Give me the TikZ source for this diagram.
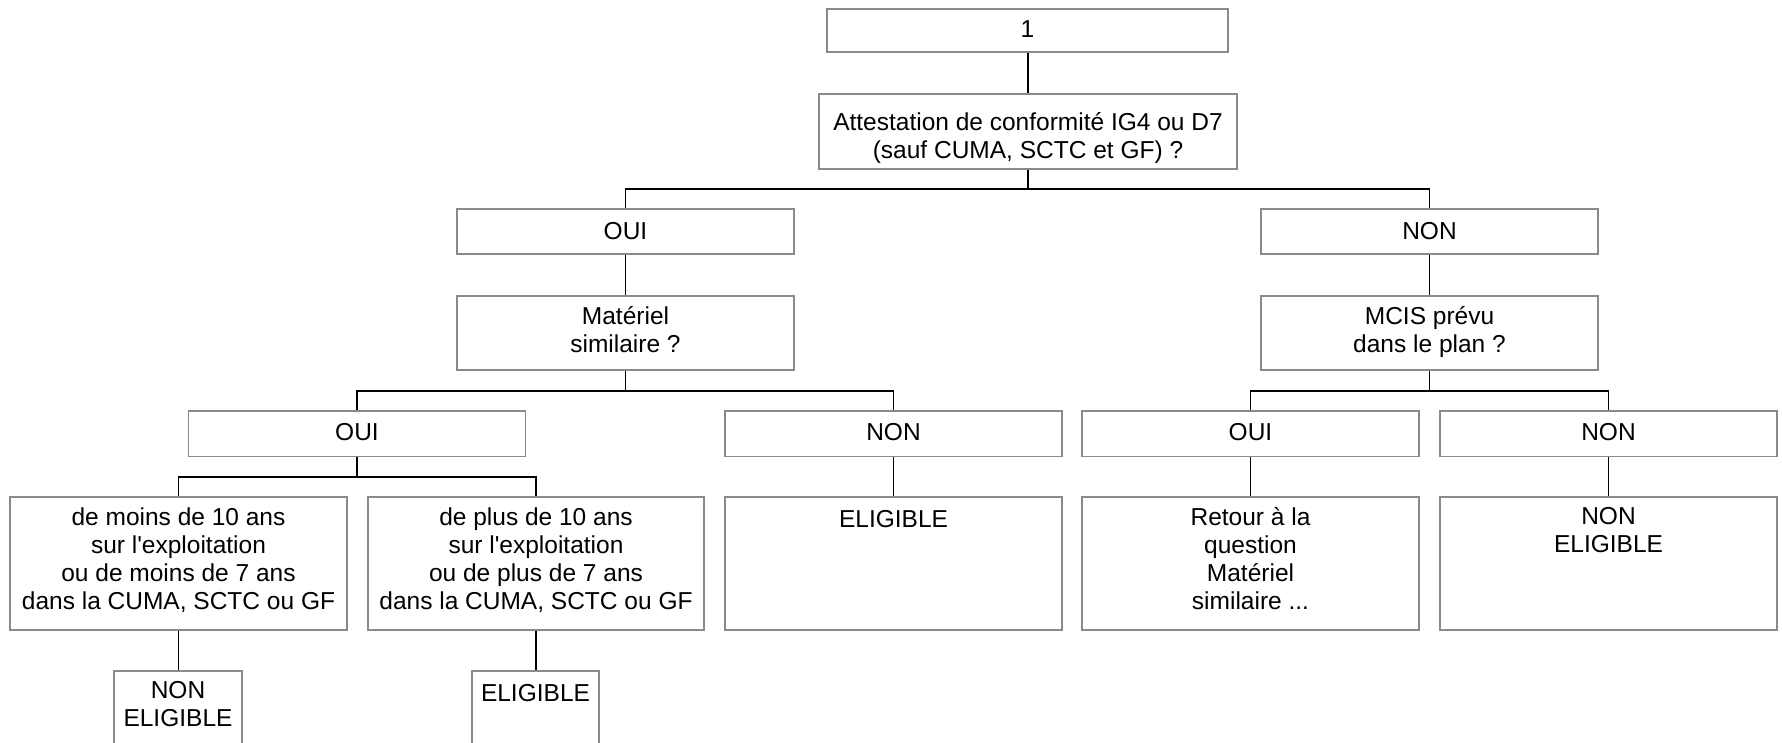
\documentclass[tikz,border=0pt]{standalone}
\usepackage{fontspec}
\setmainfont{Liberation Sans}
\definecolor{bordergray}{HTML}{8A8A8A}
\begin{document}
\begin{tikzpicture}[x=1pt,y=-1pt,
  box/.style={draw=bordergray, line width=1.6pt, rectangle, inner sep=0pt, fill=white},
  txt/.style={inner sep=0pt, align=center, anchor=north,
    font=\fontsize{24.5pt}{28pt}\selectfont,
    execute at begin node=\strut, execute at end node=\strut},
  link/.style={draw=black, line width=1.8pt}]
\useasboundingbox (0,0) rectangle (1782,743);
\clip (0,0) rectangle (1782,743);
% boxes
\node[box, minimum width=401pt, minimum height=43pt] (n1) at (1027.5,30.5) {};
\node[box, minimum width=418pt, minimum height=75pt] (q1) at (1028,131.5) {};
\node[box, minimum width=337pt, minimum height=45pt] (oui1) at (625.5,231.5) {};
\node[box, minimum width=337pt, minimum height=45pt] (non1) at (1429.5,231.5) {};
\node[box, minimum width=337pt, minimum height=74pt] (q2) at (625.5,333) {};
\node[box, minimum width=337pt, minimum height=74pt] (q3) at (1429.5,333) {};
\node[box, minimum width=337pt, minimum height=45.5pt] (oui2) at (357,433.75) {};
\node[box, minimum width=337pt, minimum height=45.5pt] (non2) at (893.5,433.75) {};
\node[box, minimum width=337pt, minimum height=45.5pt] (oui3) at (1250.5,433.75) {};
\node[box, minimum width=337pt, minimum height=45.5pt] (non3) at (1608.5,433.75) {};
\node[box, minimum width=337pt, minimum height=133pt] (rA) at (178.5,563.5) {};
\node[box, minimum width=336pt, minimum height=133pt] (rB) at (536,563.5) {};
\node[box, minimum width=337pt, minimum height=133pt] (rC) at (893.5,563.5) {};
\node[box, minimum width=337pt, minimum height=133pt] (rD) at (1250.5,563.5) {};
\node[box, minimum width=337pt, minimum height=133pt] (rE) at (1608.5,563.5) {};
\node[box, minimum width=128pt, minimum height=110pt] (sA) at (178,726) {};
\node[box, minimum width=127pt, minimum height=110pt] (sB) at (535.5,726) {};
% texts
\node[txt] (tn1) at ([yshift=-9.4pt]n1.north) {1};
\node[txt] (tq1) at ([yshift=-19.4pt]q1.north) {Attestation de conformité IG4 ou D7\\(sauf CUMA, SCTC et GF) ?};
\node[txt] (toui1) at ([yshift=-11.4pt]oui1.north) {OUI};
\node[txt] (tnon1) at ([yshift=-11.4pt]non1.north) {NON};
\node[txt] (tq2) at ([yshift=-11.4pt]q2.north) {Matériel\\similaire ?};
\node[txt] (tq3) at ([yshift=-11.4pt]q3.north) {MCIS prévu\\dans le plan ?};
\node[txt] (toui2) at ([yshift=-10.4pt]oui2.north) {OUI};
\node[txt] (tnon2) at ([yshift=-10.4pt]non2.north) {NON};
\node[txt] (toui3) at ([yshift=-10.4pt]oui3.north) {OUI};
\node[txt] (tnon3) at ([yshift=-10.4pt]non3.north) {NON};
\node[txt] (trA) at ([yshift=-11.4pt]rA.north) {de moins de 10 ans\\sur l\textquotesingle exploitation\\ou de moins de 7 ans\\dans la CUMA, SCTC ou GF};
\node[txt] (trB) at ([yshift=-11.4pt]rB.north) {de plus de 10 ans\\sur l\textquotesingle exploitation\\ou de plus de 7 ans\\dans la CUMA, SCTC ou GF};
\node[txt] (trC) at ([yshift=-11.4pt]rC.north) {ELIGIBLE};
\node[txt] (trD) at ([yshift=-11.4pt]rD.north) {Retour à la\\question\\Matériel\\similaire ...};
\node[txt] (trE) at ([yshift=-11.4pt]rE.north) {NON\\ELIGIBLE};
\node[txt] (tsA) at ([yshift=-11.4pt]sA.north) {NON\\ELIGIBLE};
\node[txt] (tsB) at ([yshift=-11.4pt]sB.north) {ELIGIBLE};
% junctions
\coordinate (j1) at (1028,189);
\coordinate (j2) at (625.5,391);
\coordinate (j3) at (1429.5,391);
\coordinate (j4) at (357,477);
% connectors
\draw[link] (n1.south -| q1.north) -- (q1.north);
\draw[link] (q1.south) -- (j1);
\draw[link] (oui1.north) |- (j1) -| (non1.north);
\draw[link] (oui1.south) -- (q2.north);
\draw[link] (non1.south) -- (q3.north);
\draw[link] (q2.south) -- (j2);
\draw[link] (oui2.north) |- (j2) -| (non2.north);
\draw[link] (q3.south) -- (j3);
\draw[link] (oui3.north) |- (j3) -| (non3.north);
\draw[link] (oui2.south) -- (j4);
\draw[link] (rA.north) |- (j4) -| (rB.north);
\draw[link] (non2.south) -- (rC.north);
\draw[link] (oui3.south) -- (rD.north);
\draw[link] (non3.south) -- (rE.north);
\draw[link] (rA.south) -- (rA.south |- sA.north);
\draw[link] (rB.south) -- (rB.south |- sB.north);
\end{tikzpicture}
\end{document}
